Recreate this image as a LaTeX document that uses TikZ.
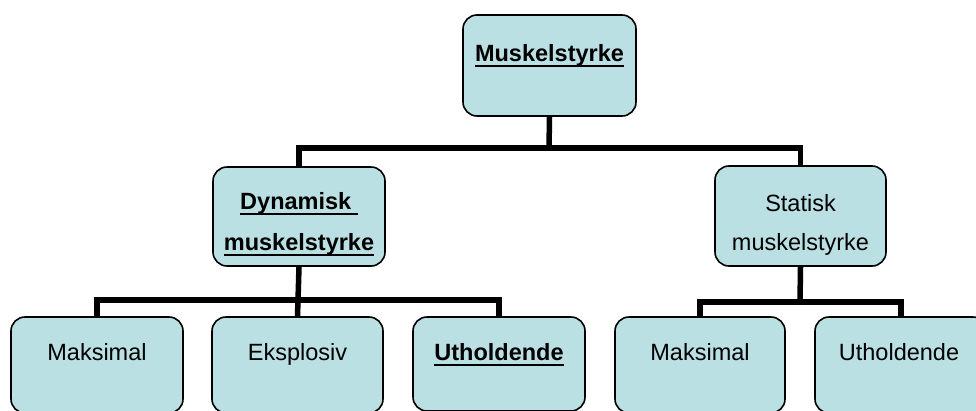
\documentclass[tikz,border=0pt]{standalone}
\usepackage{fontspec}
\setmainfont{Liberation Sans}
\definecolor{boxfill}{RGB}{186,224,227}
\tikzset{
  x=1pt, y=-1pt,
  box/.style={draw=black, line width=1.6pt, fill=boxfill, rounded corners=14pt, inner sep=0pt},
  conn/.style={draw=black, line width=5.5pt},
  lbl/.style={inner sep=0pt, anchor=base, font=\fontsize{23.5}{28}\selectfont},
}
\newcommand{\ul}[1]{\setbox0\hbox{#1}\rlap{\rule[-5.5pt]{\wd0}{1.9pt}}\box0}
\begin{document}
\begin{tikzpicture}
\useasboundingbox (0,0) rectangle (976,410);
% boxes
\node[box, minimum width=173pt, minimum height=101pt] (top) at (549.5,65.5) {};
\node[box, minimum width=172pt, minimum height=99pt] (dyn) at (299,216.5) {};
\node[box, minimum width=171pt, minimum height=100pt] (stat) at (800.5,216) {};
\node[box, minimum width=172pt, minimum height=96pt] (m1) at (97,365) {};
\node[box, minimum width=171pt, minimum height=96pt] (e1) at (297.5,365) {};
\node[box, minimum width=172pt, minimum height=94pt] (u1) at (499,364) {};
\node[box, minimum width=170pt, minimum height=96pt] (m2) at (700,365) {};
\node[box, minimum width=172pt, minimum height=96pt] (u2) at (901,365) {};
% hubs
\coordinate (hub1) at (549,148);
\coordinate (hub2) at (298,300);
\coordinate (hub3) at (800,302);
% connectors
\draw[conn] (top.south) -- (hub1);
\draw[conn] (dyn.north) |- (hub1) -| (stat.north);
\draw[conn] (dyn.south) -- (hub2);
\draw[conn] (m1.north) |- (hub2) -| (u1.north);
\draw[conn] (hub2) -- (e1.north);
\draw[conn] (stat.south) -- (hub3);
\draw[conn] (m2.north) |- (hub3) -| (u2.north);
% labels
\node[lbl] (ttop) at (549.5,61) {\textbf{\ul{Muskelstyrke}}};
\node[lbl] (tdyn1) at (299,209.5) {\textbf{\ul{Dynamisk\ }}};
\node[lbl] (tdyn2) at (299,250.5) {\textbf{\ul{muskelstyrke}}};
\node[lbl] (tstat1) at (800.5,211) {Statisk};
\node[lbl] (tstat2) at (800.5,250.5) {muskelstyrke};
\node[lbl] (tm1) at (97,360) {Maksimal};
\node[lbl] (te1) at (297.5,360) {Eksplosiv};
\node[lbl] (tu1) at (499,360) {\textbf{\ul{Utholdende}}};
\node[lbl] (tm2) at (700,360) {Maksimal};
\node[lbl] (tu2) at (899,360) {Utholdende};
\end{tikzpicture}
\end{document}
